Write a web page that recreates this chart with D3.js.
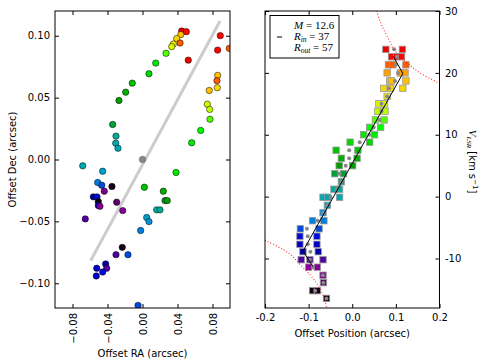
<!DOCTYPE html>
<html>
<head>
<meta charset="utf-8">
<script src="https://d3js.org/d3.v7.min.js"></script>
<style>
  body { margin: 0; background: #fff; }
  svg { display: block; }
</style>
</head>
<body>
<div id="chart"></div>
<script>
// ---- data ----
// left panel: spot positions (arcsec) and their channel velocity (km/s)
var spotRA = [0.0448, 0.0501, 0.0437, 0.0391, 0.0429, 0.0352, 0.0334, 0.0269, 0.0151, 0.0074,
  -0.0117, -0.0192, -0.0269, -0.0341, -0.0303, -0.0306, -0.0280, 0.0889, 0.0992, 0.0859,
  0.0523, 0.0859, 0.0851, 0.0855, 0.0763, 0.0741, 0.0768, 0.0771, 0.0665, 0.0562,
  -0.0683, -0.0455, 0.0383, -0.0512, -0.0466, -0.0349, 0.0021, -0.0437, 0.0238, -0.0562,
  -0.0520, -0.0505, -0.0295, 0.0257, 0.0283, -0.0505, -0.0486, -0.0226, 0.0162, 0.0200,
  -0.0654, 0.0048, 0.0074, -0.0021, -0.0231, -0.0303, -0.0166, -0.0421, -0.0523, -0.0409,
  -0.0455, -0.0528, -0.0051];
var spotDec = [0.1038, 0.1033, 0.1009, 0.0977, 0.0941, 0.0933, 0.0912, 0.0858, 0.0779, 0.0693,
  0.0617, 0.0544, 0.0477, 0.0283, 0.0189, 0.0132, 0.0091, 0.1001, 0.0898, 0.0884,
  0.0803, 0.0680, 0.0637, 0.0580, 0.0558, 0.0447, 0.0405, 0.0325, 0.0235, 0.0135,
  -0.0051, -0.0095, -0.0105, -0.0186, -0.0208, -0.0218, -0.0224, -0.0256, -0.0256, -0.0302,
  -0.0302, -0.0340, -0.0345, -0.0332, -0.0332, -0.0372, -0.0378, -0.0413, -0.0407, -0.0407,
  -0.0480, -0.0469, -0.0502, -0.0574, -0.0710, -0.0769, -0.0769, -0.0844, -0.0879, -0.0879,
  -0.0909, -0.0941, -0.1179];
var spotV = [23.8, 22.6, 18.7, 17.5, 21.3, 16.2, 15.0, 12.4, 10.0, 8.8,
  7.5, 6.2, 5.0, 3.7, 1.2, -0.1, -0.1, 22.6, 21.3, 22.6,
  23.8, 18.7, 21.3, 17.5, 18.7, 15.0, 13.8, 12.4, 11.2, 10.0,
  -0.1, -1.4, 10.0, -3.9, -5.2, -15.2, 7.5, -12.7, 6.2, -8.9,
  -6.4, -16.45, -13.9, 3.7, 5.0, -7.7, -11.4, -11.4, -0.1, 2.4,
  -10.2, -1.4, -2.6, -3.9, -15.2, -10.2, -5.2, -8.9, -7.7, -10.2,
  -6.4, -7.7, -5.2];
var centerRA = [0.0];
var centerDec = [0.0];
// position-angle line
var paRA = [-0.0592, 0.0886];
var paDec = [-0.0817, 0.1119];

// right panel: velocity channels, spot offsets along the PA, channel centroids
var channelV = [23.8, 22.6, 21.3, 20.0, 18.7, 17.5, 16.2, 15.0, 13.8, 12.4, 11.2, 10.0, 8.8,
  7.5, 6.2, 5.0, 3.7, 2.4, 1.2, -0.1, -1.4, -2.6, -3.9, -5.2, -6.4, -7.7, -8.9,
  -10.2, -11.4, -12.7, -13.9, -15.2, -16.45];
var squareX = [
  [0.077, 0.115], [0.090, 0.102, 0.113], [0.083, 0.093, 0.123], [0.080, 0.110, 0.121],
  [0.086, 0.090, 0.123], [0.072, 0.088, 0.116], [0.080], [0.061, 0.074], [0.058, 0.075],
  [0.053, 0.073], [0.040, 0.065], [0.026, 0.051], [-0.005, 0.040], [-0.037, 0.013],
  [-0.025, 0.011], [-0.030, 0.001], [-0.040, -0.020], [-0.025], [-0.042, -0.029],
  [-0.067, -0.056, -0.029], [-0.057], [-0.067], [-0.091, -0.065], [-0.119, -0.076],
  [-0.120, -0.081], [-0.120, -0.081], [-0.113, -0.078], [-0.117, -0.097, -0.067],
  [-0.100, -0.080], [-0.067], [-0.066], [-0.091, -0.080], [-0.059]
];
var centroidX = [0.096, 0.102, 0.100, 0.105, 0.098, 0.084, 0.080, 0.067, 0.067, 0.063, 0.049,
  0.039, 0.017, -0.007, -0.007, -0.015, -0.029, -0.025, -0.036, -0.050, -0.057, -0.067,
  -0.079, -0.104, -0.102, -0.102, -0.096, -0.097, -0.090, -0.067, -0.066, -0.085, -0.059];
// ring model line
var modelX = [0.094, 0.116, -0.113, -0.090];
var modelV = [22.7, 19.9, -8.8, -11.3];
// keplerian envelope (dotted red)
var keplerUpX = [0.056, 0.065, 0.080, 0.100, 0.126, 0.155, 0.200];
var keplerUpV = [30.0, 28.1, 25.9, 23.4, 21.6, 20.0, 18.3];
var keplerLoX = [-0.200, -0.157, -0.138, -0.119, -0.096, -0.080, -0.065, -0.059];
var keplerLoV = [-7.05, -8.6, -9.6, -11.0, -12.7, -14.2, -16.3, -17.9];

var legendLines = [["M", "", " = 12.6"], ["R", "in", " = 37"], ["R", "out", " = 57"]];

var xTicksL = [-0.08, -0.04, 0.00, 0.04, 0.08];
var yTicksL = [-0.10, -0.05, 0.00, 0.05, 0.10];
var xTicksR = [-0.2, -0.1, 0.0, 0.1, 0.2];
var yTicksR = [-10, 0, 10, 20, 30];

// nipy_spectral colour map
var cmStops = [0, 0.05, 0.1, 0.15, 0.2, 0.25, 0.3, 0.35, 0.4, 0.45, 0.5, 0.55, 0.6, 0.65, 0.7, 0.75, 0.8, 0.85, 0.9, 0.95, 1];
var cmR = [0, 0.4667, 0.5333, 0, 0, 0, 0, 0, 0, 0, 0, 0, 0, 0.7333, 0.9333, 1, 1, 1, 0.8667, 0.8, 0.8];
var cmG = [0, 0, 0, 0, 0, 0.4667, 0.6, 0.6667, 0.6667, 0.6, 0.7333, 0.8667, 1, 1, 0.9333, 0.8, 0.6, 0, 0, 0, 0.8];
var cmB = [0, 0.5333, 0.6, 0.6667, 0.8667, 0.8667, 0.8667, 0.6667, 0.5333, 0, 0, 0, 0, 0, 0, 0, 0, 0, 0, 0, 0.8];

// ---- layout ----
var W = 484, H = 364;
var L = {left: 55, right: 230, top: 11, bottom: 308};
var R = {left: 265, right: 439.5, top: 11, bottom: 308};
var FONT = "DejaVu Sans";
var SERIF = "Liberation Serif";

var svg = d3.select("#chart").append("svg")
  .attr("width", W).attr("height", H)
  .attr("font-family", FONT);

var vmin = -15.6, vmax = 29.4;
var color = d3.scaleLinear()
  .domain(cmStops.map(function(s){ return vmin + s * (vmax - vmin); }))
  .range(cmStops.map(function(s, i){ return d3.rgb(cmR[i] * 255, cmG[i] * 255, cmB[i] * 255); }))
  .clamp(true);

var xL = d3.scaleLinear().domain([-0.1, 0.1]).range([L.left, L.right]);
var yL = d3.scaleLinear().domain([-0.12, 0.12]).range([L.bottom, L.top]);
var xR = d3.scaleLinear().domain([-0.2, 0.2]).range([R.left, R.right]);
var yR = d3.scaleLinear().domain([-18, 30]).range([R.bottom, R.top]);

var defs = svg.append("defs");
defs.append("clipPath").attr("id", "clipL").append("rect")
  .attr("x", L.left).attr("y", L.top).attr("width", L.right - L.left).attr("height", L.bottom - L.top);
defs.append("clipPath").attr("id", "clipR").append("rect")
  .attr("x", R.left).attr("y", R.top).attr("width", R.right - R.left).attr("height", R.bottom - R.top);

function noDomain(g){ g.select(".domain").remove(); g.attr("font-family", FONT).attr("font-size", 10); }

// ---- left panel ----
var gL = svg.append("g").attr("clip-path", "url(#clipL)");

gL.append("line")
  .attr("x1", xL(paRA[0])).attr("y1", yL(paDec[0]))
  .attr("x2", xL(paRA[1])).attr("y2", yL(paDec[1]))
  .style("stroke", "#cccccc").style("stroke-width", 3);

var spots = spotRA.map(function(d, i){ return {ra: d, dec: spotDec[i], v: spotV[i]}; });

gL.selectAll(".center-pt")
  .data(centerRA.map(function(d, i){ return {ra: d, dec: centerDec[i]}; }))
  .enter().append("circle")
  .attr("class", "center-pt")
  .attr("cx", function(d){ return xL(d.ra); })
  .attr("cy", function(d){ return yL(d.dec); })
  .attr("r", 3.2)
  .style("fill", "#888888").style("stroke", "#555").style("stroke-width", 0.5);

gL.selectAll(".spot")
  .data(spots)
  .enter().append("circle")
  .attr("class", "spot")
  .attr("cx", function(d){ return xL(d.ra); })
  .attr("cy", function(d){ return yL(d.dec); })
  .attr("r", 3.2)
  .style("fill", function(d){ return color(d.v); })
  .style("stroke", "black").style("stroke-width", 0.5);

svg.append("rect")
  .attr("x", L.left).attr("y", L.top).attr("width", L.right - L.left).attr("height", L.bottom - L.top)
  .style("fill", "none").style("stroke", "black").style("stroke-width", 1);

var fmt2 = d3.format(".2f");
svg.append("g").attr("transform", "translate(0," + L.bottom + ")")
  .call(d3.axisBottom(xL).tickValues(xTicksL).tickSize(-4).tickFormat(fmt2))
  .call(noDomain)
  .selectAll("text")
  .attr("transform", "rotate(-90)")
  .attr("x", -5).attr("y", 0).attr("dy", "0.35em")
  .attr("text-anchor", "end");
svg.append("g").attr("transform", "translate(0," + L.top + ")")
  .call(d3.axisTop(xL).tickValues(xTicksL).tickSize(-4).tickFormat(""))
  .call(noDomain);
svg.append("g").attr("transform", "translate(" + L.left + ",0)")
  .call(d3.axisLeft(yL).tickValues(yTicksL).tickSize(-4).tickPadding(5).tickFormat(fmt2))
  .call(noDomain);
svg.append("g").attr("transform", "translate(" + L.right + ",0)")
  .call(d3.axisRight(yL).tickValues(yTicksL).tickSize(-4).tickFormat(""))
  .call(noDomain);

svg.append("text")
  .attr("transform", "translate(15.5," + ((L.top + L.bottom) / 2) + ") rotate(-90)")
  .attr("text-anchor", "middle").attr("font-size", 10)
  .text("Offset Dec (arcsec)");
svg.append("text")
  .attr("x", (L.left + L.right) / 2).attr("y", 357)
  .attr("text-anchor", "middle").attr("font-size", 10)
  .text("Offset RA (arcsec)");

// ---- right panel ----
var gR = svg.append("g").attr("clip-path", "url(#clipR)");

var squares = [];
channelV.forEach(function(v, i){
  squareX[i].forEach(function(x){ squares.push({x: x, v: v}); });
});
var sq = 6.4;

gR.selectAll(".chan-sq")
  .data(squares)
  .enter().append("rect")
  .attr("class", "chan-sq")
  .attr("x", function(d){ return xR(d.x) - sq / 2; })
  .attr("y", function(d){ return yR(d.v) - sq / 2; })
  .attr("width", sq).attr("height", sq)
  .style("fill", function(d){ return color(d.v); })
  .style("stroke", "#999999").style("stroke-width", 0.8);

gR.selectAll(".centroid")
  .data(channelV.map(function(v, i){ return {x: centroidX[i], v: v}; }))
  .enter().append("circle")
  .attr("class", "centroid")
  .attr("cx", function(d){ return xR(d.x); })
  .attr("cy", function(d){ return yR(d.v); })
  .attr("r", 2)
  .style("fill", "#888888");

var line = d3.line()
  .x(function(d){ return xR(d[0]); })
  .y(function(d){ return yR(d[1]); });

gR.append("path")
  .attr("d", line(modelX.map(function(x, i){ return [x, modelV[i]]; })))
  .style("fill", "none").style("stroke", "black").style("stroke-width", 1);

var curve = d3.line()
  .curve(d3.curveCatmullRom)
  .x(function(d){ return xR(d[0]); })
  .y(function(d){ return yR(d[1]); });

[[keplerUpX, keplerUpV], [keplerLoX, keplerLoV]].forEach(function(k){
  gR.append("path")
    .attr("d", curve(k[0].map(function(x, i){ return [x, k[1][i]]; })))
    .style("fill", "none").style("stroke", "red").style("stroke-opacity", 0.85)
    .style("stroke-width", 1.1).style("stroke-dasharray", "1,2");
});

svg.append("rect")
  .attr("x", R.left).attr("y", R.top).attr("width", R.right - R.left).attr("height", R.bottom - R.top)
  .style("fill", "none").style("stroke", "black").style("stroke-width", 1);

var hyph = function(f){ return function(d){ return f(d).replace("\u2212", "-"); }; };
svg.append("g").attr("transform", "translate(0," + R.bottom + ")")
  .call(d3.axisBottom(xR).tickValues(xTicksR).tickSize(-4).tickPadding(5.5).tickFormat(hyph(d3.format(".1f"))))
  .call(noDomain);
svg.append("g").attr("transform", "translate(0," + R.top + ")")
  .call(d3.axisTop(xR).tickValues(xTicksR).tickSize(-4).tickFormat(""))
  .call(noDomain);
svg.append("g").attr("transform", "translate(" + R.left + ",0)")
  .call(d3.axisLeft(yR).tickValues(yTicksR).tickSize(-4).tickFormat(""))
  .call(noDomain);
svg.append("g").attr("transform", "translate(" + R.right + ",0)")
  .call(d3.axisRight(yR).tickValues(yTicksR).tickSize(-4).tickPadding(5.5).tickFormat(hyph(d3.format("d"))))
  .call(noDomain);

svg.append("text")
  .attr("x", (R.left + R.right) / 2).attr("y", 337)
  .attr("text-anchor", "middle").attr("font-size", 10)
  .text("Offset Position (arcsec)");

var vlab = svg.append("text")
  .attr("transform", "translate(469," + ((R.top + R.bottom) / 2 + 2) + ") rotate(90)")
  .attr("text-anchor", "middle").attr("font-size", 10);
vlab.append("tspan").attr("font-family", SERIF).attr("font-style", "italic").attr("font-size", 11).text("V");
vlab.append("tspan").attr("font-family", SERIF).attr("font-style", "italic").attr("font-size", 7).attr("dy", 2).text("LSR");
vlab.append("tspan").attr("dy", -2).text(" [km s");
vlab.append("tspan").attr("font-size", 7).attr("dy", -4).text("\u22121");
vlab.append("tspan").attr("dy", 4).text("]");

// legend
var lg = svg.append("g");
lg.append("rect")
  .attr("x", 270).attr("y", 15.5).attr("width", 69).attr("height", 42.5)
  .style("fill", "white").style("stroke", "black").style("stroke-width", 1);
lg.append("line")
  .attr("x1", 277).attr("x2", 282).attr("y1", 37).attr("y2", 37)
  .style("stroke", "black").style("stroke-width", 1);
legendLines.forEach(function(row, i){
  var t = lg.append("text")
    .attr("x", 294).attr("y", 28.5 + i * 11.3)
    .attr("font-family", SERIF).attr("font-size", 11);
  t.append("tspan").attr("font-style", "italic").text(row[0]);
  if (row[1]) {
    t.append("tspan").attr("font-style", "italic").attr("font-size", 7.5).attr("dy", 2).text(row[1]);
    t.append("tspan").attr("dy", -2).text(row[2]);
  } else {
    t.append("tspan").text(row[2]);
  }
});
</script>
</body>
</html>
